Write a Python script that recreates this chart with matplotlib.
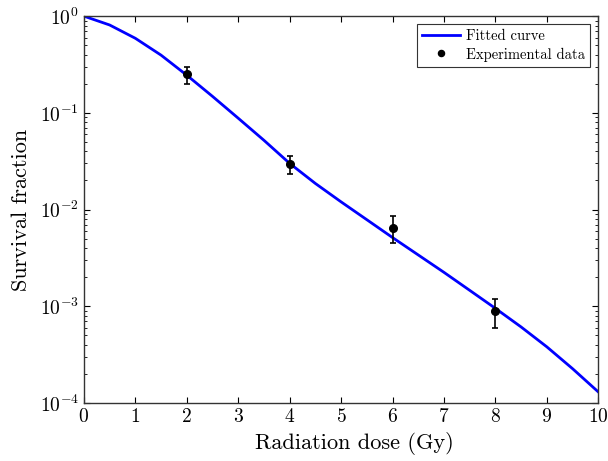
import numpy as np
import matplotlib
matplotlib.use('Agg')
import matplotlib.pyplot as plt
from matplotlib.ticker import LogLocator, NullFormatter, MultipleLocator

# computer modern look
plt.rcParams['font.family'] = 'serif'
plt.rcParams['font.serif'] = ['cmr10']
plt.rcParams['mathtext.fontset'] = 'cm'
plt.rcParams['axes.formatter.use_mathtext'] = True

# fitted curve
dose_fit = [0, 0.5, 1, 1.5, 2, 2.5, 3, 3.5, 4, 4.5, 5,
            5.5, 6, 6.5, 7, 7.5, 8, 8.5, 9, 9.5, 10]
surv_fit = [1.0, 0.81, 0.59, 0.395, 0.245, 0.148, 0.088, 0.052, 0.0300, 0.0186, 0.0120,
            0.00785, 0.00513, 0.00339, 0.00224, 0.00146, 0.00095, 0.00061, 0.00038, 0.000226, 0.00013]

# experimental points
dose_exp = [2, 4, 6, 8]
surv_exp = [0.25, 0.0295, 0.0065, 0.0009]
err_exp = [0.05, 0.006, 0.002, 0.0003]

fig = plt.figure(figsize=(6.08, 4.61), dpi=100)
ax = fig.add_axes([0.138, 0.126, 0.846, 0.839])

ax.semilogy(dose_fit, surv_fit, color='#0000ff', lw=2.0, label='Fitted curve', zorder=2)
ax.errorbar(dose_exp, surv_exp, yerr=err_exp, fmt='none', ecolor='black',
            elinewidth=1.2, capsize=2.5, capthick=1.2, zorder=3)
ax.plot(dose_exp, surv_exp, 'o', color='black', ms=5.5, ls='none',
        label='Experimental data', zorder=4)

ax.set_xlim(0, 10)
ax.set_ylim(1e-4, 1)
ax.xaxis.set_major_locator(MultipleLocator(1))
ax.yaxis.set_major_locator(LogLocator(base=10, numticks=10))
ax.yaxis.set_minor_locator(LogLocator(base=10, subs=np.arange(2, 10), numticks=10))
ax.yaxis.set_minor_formatter(NullFormatter())

ax.tick_params(which='both', direction='in', top=True, right=True, labelsize=14)
ax.tick_params(which='major', length=4.5, width=0.8)
ax.tick_params(which='minor', length=2.5, width=0.6)
ax.tick_params(axis='x', pad=4)
for s in ax.spines.values():
    s.set_linewidth(1.0)
    s.set_color('#333333')

ax.set_xlabel('Radiation dose (Gy)', fontsize=16)
ax.xaxis.set_label_coords(0.525, -0.075)
ax.set_ylabel('Survival fraction', fontsize=16, labelpad=6)

leg = ax.legend(loc='upper right', fontsize=10.5, fancybox=False, edgecolor='#333333',
                framealpha=1, handlelength=2.6, borderaxespad=0.55, numpoints=1,
                borderpad=0.35, labelspacing=0.3, handletextpad=0.4, markerscale=0.8)
leg.get_frame().set_linewidth(0.8)

fig.savefig('out.png', dpi=100)
